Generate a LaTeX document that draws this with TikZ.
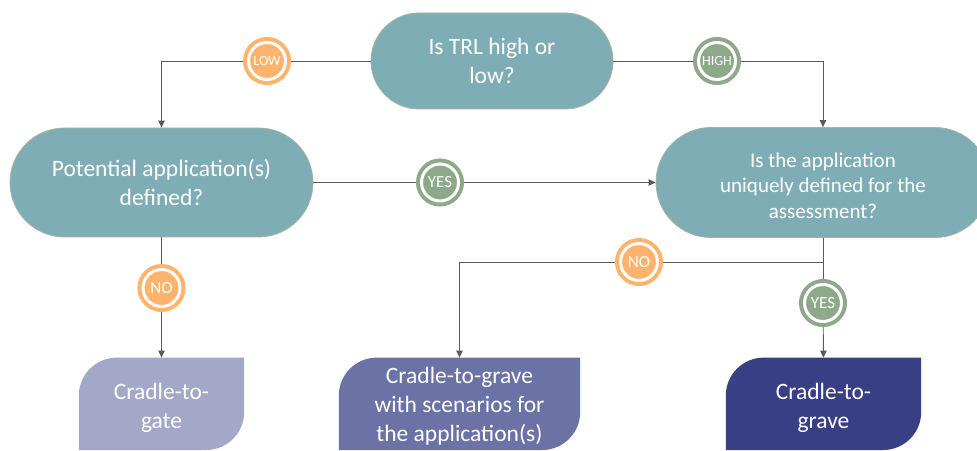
\documentclass[tikz,border=0pt]{standalone}
\usepackage{fontspec}
\setmainfont{Carlito}
\usetikzlibrary{shapes.misc,arrows.meta,backgrounds}
\definecolor{teal}{HTML}{7FADB6}
\definecolor{tealborder}{HTML}{9FB79C}
\definecolor{orng}{HTML}{FFB36C}
\definecolor{grn}{HTML}{8DA98A}
\definecolor{leafa}{HTML}{A3A8C8}
\definecolor{leafb}{HTML}{6B72A6}
\definecolor{leafc}{HTML}{383F84}
\definecolor{conn}{HTML}{5A5A5A}
\tikzset{
  stadium/.style={rounded rectangle, fill=teal, draw=tealborder, line width=0.8pt,
    text=white, align=center, inner sep=0pt, font=\fontsize{23.5}{28.5}\selectfont},
  badge/.style={circle, fill=#1, draw=#1, line width=4pt, double=white, double distance=3pt,
    minimum size=37pt, inner sep=0pt, outer sep=5.5pt, text=white},
  leafnode/.style={rectangle, minimum height=92pt, inner sep=0pt, anchor=south},
  leaftext/.style={text=white, align=center, inner sep=0pt, font=\fontsize{23.5}{29}\selectfont},
  conline/.style={draw=conn, line width=0.9pt},
  arr/.style={conline, -{Triangle[length=7pt,width=6.5pt]}},
}
\begin{document}
\begin{tikzpicture}[x=1pt,y=1pt]
\useasboundingbox (0,0) rectangle (977,450);
\clip (0,0) rectangle (977,450);
% decision nodes
\node[stadium, minimum width=242pt, minimum height=96pt] (top) at (492,389) {Is TRL high or\\low?};
\node[stadium, minimum width=303pt, minimum height=109pt] (left) at (161.5,267.5) {Potential application(s)\\defined?};
\node[stadium, minimum width=334pt, minimum height=110pt] (right) at (823,267.5) {};
\node[leaftext, font=\fontsize{21}{25.5}\selectfont] (righttext) at ([yshift=-3pt]right.center) {Is the application\\uniquely defined for the\\assessment?};
% leaves
\node[leafnode, minimum width=165pt] (leafA) at (161.5,0) {};
\node[leafnode, minimum width=241pt] (leafB) at (459.5,0) {};
\node[leafnode, minimum width=195pt] (leafC) at (823.5,0) {};
\foreach \n/\c in {leafA/leafa, leafB/leafb, leafC/leafc}{
  \fill[\c] (\n.south west) -- ([yshift=-38pt]\n.north west)
    arc[start angle=180, end angle=90, radius=38pt] -- (\n.north east)
    -- ([yshift=38pt]\n.south east)
    arc[start angle=0, end angle=-90, radius=38pt] -- cycle;
}
\node[leaftext] (leafAtext) at ([yshift=-4pt]leafA.center) {Cradle-to-\\gate};
\node[leaftext] (leafBtext) at ([yshift=-2pt]leafB.center) {Cradle-to-grave\\with scenarios for\\the application(s)};
\node[leaftext] (leafCtext) at ([yshift=-4pt]leafC.center) {Cradle-to-\\grave};
% badges
\node[badge=orng, font=\fontsize{14}{14}\selectfont] (low) at (267,389) {LOW};
\node[badge=grn, font=\fontsize{14}{14}\selectfont] (high) at (717,389) {HIGH};
\node[badge=grn, font=\fontsize{17}{17}\selectfont] (yes1) at (440,267.5) {YES};
\node[badge=orng, font=\fontsize{17}{17}\selectfont] (no1) at (161.5,162) {NO};
\node[badge=orng, font=\fontsize{17}{17}\selectfont] (no2) at (639,188) {NO};
\node[badge=grn, font=\fontsize{17}{17}\selectfont] (yes2) at (823,147) {YES};
\coordinate (split) at (823,188);
% connectors
\draw[conline] (top.west) -- (low);
\draw[arr] (low) -| (left.north);
\draw[conline] (top.east) -- (high);
\draw[arr] (high) -| (right.north);
\draw[conline] (left.east) -- (yes1);
\draw[arr] (yes1) -- (right.west);
\draw[conline] (left.south) -- (no1);
\draw[arr] (no1) -- (leafA.north);
\draw[conline] (right.south) -- (yes2);
\draw[arr] (yes2) -- (leafC.north);
\draw[conline] (split) -- (no2);
\draw[arr] (no2) -| (leafB.north);
\end{tikzpicture}
\end{document}
